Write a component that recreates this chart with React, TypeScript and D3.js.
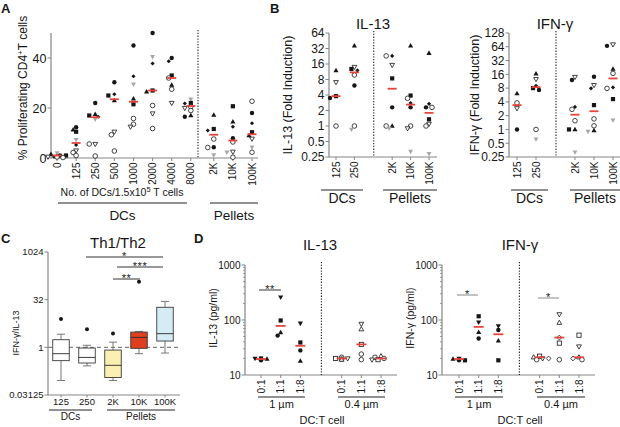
import React from "react";
import * as d3 from "d3";

const FONT = "'Liberation Sans', Arial, Helvetica, sans-serif";
const RED = "#e6443b";
const AXIS = "#858585";
const INK = "#161616";
const GREY = "#a8a8a8";

type Kind = "fc" | "fd" | "fs" | "ft" | "fv" | "gt" | "ot" | "ou" | "oc" | "os" | "od";
type V = number | null;

// ---------------- Panel A : % proliferating CD4+ T cells
const aCategories = ["0", "125", "250", "500", "1000", "2000", "4000", "8000", "2K", "10K", "100K"];
const aFilledCircle: V[] = [1, 12.3, 22, 30.3, 45, 50, 40, 16.5, 4.3, 7.9, 18];
const aFilledDiamond: V[] = [0.5, 5.2, 16.5, 25.5, 32.7, 37.8, 38.7, 21.8, 11, 12.5, 13.9];
const aFilledSquare: V[] = [1, 10.5, 17, 25, 21.5, 27, 33, 22, 11.6, 20.7, 10.3];
const aFilledTriangle: V[] = [1.5, 11.3, 17.5, 23, 23.7, 26.5, 29.2, 17, 17.2, 14.5, 9];
const aGreyTriangle: V[] = [2, 7.3, 15.5, null, 29.5, 40.5, null, 23.5, 1.2, 2.3, 4.3];
const aOpenTriangle: V[] = [0.5, 3, 5.6, 10.5, 12.5, 17.8, 22, 20, null, 2.5, 7.7];
const aOpenCircle1: V[] = [0.4, 2.2, 5.6, 9.3, 15.8, 21, 27.5, 19, 7.6, 6.4, 22.7];
const aOpenCircle2: V[] = [0.2, 1, 0.8, 2.8, 13.5, 11.8, 32, 20.5, 4.2, 0.3, 2.3];
const aMedian = [1, 6, 16.3, 23.5, 22.5, 27, 32, 20.8, 9.3, 7, 9.5];
const aTicks = [0, 20, 40];

// ---------------- Panel B : fold induction
const bCategories = ["125", "250", "2K", "10K", "100K"];
const bIl13FilledTriangle: V[] = [11.9, 36, 1.0, 36, 26];
const bIl13FilledSquare: V[] = [3.8, 12.8, 8.4, 3.9, 1.35];
const bIl13FilledCircle: V[] = [3.5, 6.1, 2.3, 2.3, 2.3];
const bIl13FilledDiamond: V[] = [null, 12, 23, 2.8, 2.7];
const bIl13OpenTriangle: V[] = [7.1, 14, 15.3, 0.9, 1.1];
const bIl13OpenCircle1: V[] = [1.0, 9.8, 23, 3.45, 2.3];
const bIl13OpenCircle2: V[] = [null, 1.0, 1.0, 1.0, 1.0];
const bIl13GreyTriangle: V[] = [null, 0.86, 0.9, 0.32, 0.29];
const bIl13Median = [3.8, 11, 5.3, 2.6, 1.8];
const bIl13Ticks = [0.25, 0.5, 1, 2, 4, 8, 16, 32, 64];

const bIfnFilledTriangle: V[] = [6.1, 16.5, 1.0, 0.95, 20.8];
const bIfnFilledCircle: V[] = [1.0, 7.3, 12, 14.2, 67];
const bIfnFilledDiamond: V[] = [null, 9, 3.1, 7.9, 8.3];
const bIfnFilledSquare: V[] = [null, 8, 1.0, 3.4, 4.6];
const bIfnOpenTriangle: V[] = [2.9, 12.6, 14, 9.3, 72];
const bIfnOpenCircle1: V[] = [3.8, 1.0, 2.75, 1.7, 16.8];
const bIfnOpenCircle2: V[] = [null, null, 1.55, 1.2, 7.9];
const bIfnGreyTriangle: V[] = [null, 0.61, 0.32, 0.9, 1.6];
const bIfnMedian = [3.4, 8.4, 2.1, 2.5, 13];
const bIfnTicks = [0.25, 0.5, 1, 2, 4, 8, 16, 32, 64, 128];

// ---------------- Panel C : Th1/Th2 ratio boxes
const cCategories = ["125", "250", "2K", "10K", "100K"];
const cWhiskerLow = [0.09, 0.26, 0.09, 0.63, 0.66];
const cQ1 = [0.38, 0.32, 0.112, 0.93, 1.58];
const cMedian = [0.63, 0.48, 0.27, 2.06, 2.7];
const cQ3 = [1.74, 0.95, 0.82, 3.03, 18.4];
const cWhiskerHigh = [2.6, 1.16, 1.46, 3.18, 28.2];
const cOutlier: V[] = [7.9, 3.7, 2.75, 118, null];
const cFills = ["#ffffff", "#ffffff", "#fbf0b2", "#df3f1f", "#d5ebf6"];
const cTicks = [0.03125, 1, 32, 1024];
const cTickLabels = ["0.03125", "1", "32", "1024"];

// ---------------- Panel D : cytokine (pg/ml)
const dCategories = ["0:1", "1:1", "1:8", "0:1", "1:1", "1:8"];
const dIl13FilledSquare: V[] = [20, 98, 39, null, null, null];
const dIl13FilledTriangle: V[] = [19.5, 59, 18, null, null, null];
const dIl13FilledCircle: V[] = [18.5, 52, 28, null, null, null];
const dIl13FilledDown: V[] = [20, 259, 87, null, null, null];
const dIl13OpenCircle1: V[] = [null, null, null, 21, 24, 20];
const dIl13OpenSquare: V[] = [null, null, null, 20, 36, 19];
const dIl13OpenUp: V[] = [null, null, null, 19, 68, 22];
const dIl13OpenDown: V[] = [null, null, null, 20, 85, 19];
const dIl13OpenCircle2: V[] = [null, null, null, 19.5, 19, 21];
const dIl13Median = [19.5, 78, 34, 20, 36, 20];

const dIfnFilledSquare: V[] = [18.5, 117, 18.5, null, null, null];
const dIfnFilledDown: V[] = [20, 91, 78, null, null, null];
const dIfnFilledTriangle: V[] = [19.5, 60, 42, null, null, null];
const dIfnFilledCircle: V[] = [18.5, 46, 66, null, null, null];
const dIfnOpenSquare: V[] = [null, null, null, 22, 38, 53];
const dIfnOpenDown: V[] = [null, null, null, 20, 127, 33];
const dIfnOpenUp: V[] = [null, null, null, 21, 89, 21];
const dIfnOpenCircle: V[] = [null, null, null, 19, 19, 19];
const dIfnOpenDiamond: V[] = [null, null, null, 20, 48, 20];
const dIfnMedian = [19.5, 75, 55, 21, 48, 21];
const dTicks = [10, 100, 1000];

// ---------------- helpers
function Marker({ kind, x, y }: { kind: Kind; x: number; y: number }) {
  const sw = 0.8;
  const up = (s: number) => `M${x},${y - s}L${x + s * 0.92},${y + s * 0.62}L${x - s * 0.92},${y + s * 0.62}Z`;
  const dn = (s: number) => `M${x},${y + s}L${x + s * 0.92},${y - s * 0.62}L${x - s * 0.92},${y - s * 0.62}Z`;
  const dm = (s: number) => `M${x},${y - s}L${x + s},${y}L${x},${y + s}L${x - s},${y}Z`;
  switch (kind) {
    case "fc": return <circle cx={x} cy={y} r={2.2} fill={INK} />;
    case "fd": return <path d={dm(2.1)} fill={INK} />;
    case "fs": return <rect x={x - 2.1} y={y - 2.1} width={4.2} height={4.2} fill={INK} />;
    case "ft": return <path d={up(2.8)} fill={INK} />;
    case "fv": return <path d={dn(2.8)} fill={INK} />;
    case "gt": return <path d={dn(2.7)} fill={GREY} />;
    case "ot": return <path d={dn(2.6)} fill="white" stroke={INK} strokeWidth={sw} />;
    case "ou": return <path d={up(2.6)} fill="white" stroke={INK} strokeWidth={sw} />;
    case "oc": return <circle cx={x} cy={y} r={2.3} fill="white" stroke={INK} strokeWidth={sw} />;
    case "os": return <rect x={x - 2.1} y={y - 2.1} width={4.2} height={4.2} fill="white" stroke={INK} strokeWidth={sw} />;
    case "od": return <path d={dm(2.4)} fill="white" stroke={INK} strokeWidth={sw} />;
  }
  return null;
}

type Series = [Kind, V[]][];

function dodge(pts: { kind: Kind; y: number }[], xc: number) {
  const sorted = [...pts].sort((a, b) => a.y - b.y);
  const placed: { kind: Kind; x: number; y: number }[] = [];
  const offs = [0, -3, 3, -6, 6, -9, 9];
  for (const p of sorted) {
    let done = false;
    for (const o of offs) {
      const x = xc + o;
      if (placed.every((q) => Math.hypot(q.x - x, q.y - p.y) >= 3.6)) {
        placed.push({ kind: p.kind, x, y: p.y });
        done = true;
        break;
      }
    }
    if (!done) placed.push({ kind: p.kind, x: xc, y: p.y });
  }
  return placed;
}

function DotColumns({ series, medians, xOf, y, mw }: { series: Series; medians: number[]; xOf: (i: number) => number; y: (v: number) => number; mw: number }) {
  return (
    <g>
      {medians.map((m, i) => {
        const xc = xOf(i);
        const pts: { kind: Kind; y: number }[] = [];
        series.forEach(([k, vals]) => {
          const v = vals[i];
          if (v != null) pts.push({ kind: k, y: y(v) });
        });
        const placed = dodge(pts, xc);
        return (
          <g key={i}>
            {placed.map((p, j) => <Marker key={j} kind={p.kind} x={p.x} y={p.y} />)}
            <line x1={xc - mw / 2} x2={xc + mw / 2} y1={y(m)} y2={y(m)} stroke={RED} strokeWidth={1.8} />
          </g>
        );
      })}
    </g>
  );
}

function YAxis({ x, top, bottom, ticks, fs, minor = [] }: { x: number; top: number; bottom: number; ticks: { y: number; label: string }[]; fs: number; minor?: number[] }) {
  return (
    <g>
      <line x1={x} x2={x} y1={top} y2={bottom} stroke={AXIS} strokeWidth={1.2} />
      {minor.map((m, i) => <line key={"m" + i} x1={x - 2} x2={x} y1={m} y2={m} stroke={AXIS} strokeWidth={0.8} />)}
      {ticks.map((t, i) => (
        <g key={i}>
          <line x1={x - 3.5} x2={x} y1={t.y} y2={t.y} stroke={AXIS} strokeWidth={1} />
          <text x={x - 4.5} y={t.y + fs * 0.36} fontSize={fs} textAnchor="end" fill={INK}>{t.label}</text>
        </g>
      ))}
    </g>
  );
}

function XAxisRot({ y, x0, x1, cats, xOf, fs }: { y: number; x0: number; x1: number; cats: string[]; xOf: (i: number) => number; fs: number }) {
  return (
    <g>
      <line x1={x0} x2={x1} y1={y} y2={y} stroke={AXIS} strokeWidth={1.2} />
      {cats.map((c, i) => (
        <g key={i}>
          <line x1={xOf(i)} x2={xOf(i)} y1={y} y2={y + 3} stroke={AXIS} strokeWidth={1} />
          <text transform={`translate(${xOf(i) + fs * 0.36},${y + 4.5}) rotate(-90)`} fontSize={fs} textAnchor="end" fill={INK}>{c}</text>
        </g>
      ))}
    </g>
  );
}

function Dotted({ x, y0, y1 }: { x: number; y0: number; y1: number }) {
  return <line x1={x} x2={x} y1={y0} y2={y1} stroke="#222" strokeWidth={1.1} strokeDasharray="1.3,1.5" />;
}

function Bracket({ x0, x1, y, fs, label, color = "#333" }: { x0: number; x1: number; y: number; fs: number; label: string; color?: string }) {
  return (
    <g>
      <line x1={x0} x2={x1} y1={y} y2={y} stroke={color} strokeWidth={1} />
      <text x={(x0 + x1) / 2} y={y + 3} fontSize={fs} textAnchor="middle" fill={INK} letterSpacing={0.5}>{label}</text>
    </g>
  );
}

function Underline({ x0, x1, y, label, ly, fs }: { x0: number; x1: number; y: number; label: React.ReactNode; ly: number; fs: number }) {
  return (
    <g>
      <line x1={x0} x2={x1} y1={y} y2={y} stroke="#222" strokeWidth={1} />
      <text x={(x0 + x1) / 2} y={ly} fontSize={fs} textAnchor="middle" fill={INK}>{label}</text>
    </g>
  );
}

export default function App() {
  // ---- A scales
  const aSlot = (i: number) => (i < 8 ? i : 8.2 + (i - 8));
  const aX = d3.scaleLinear().domain([0, 10.2]).range([57, 252]);
  const aY = d3.scaleLinear().domain([0, 50]).range([158, 33]);
  const aXOf = (i: number) => aX(aSlot(i));
  const aSeries: Series = [
    ["fc", aFilledCircle], ["fd", aFilledDiamond], ["fs", aFilledSquare], ["ft", aFilledTriangle],
    ["gt", aGreyTriangle], ["ot", aOpenTriangle], ["oc", aOpenCircle1], ["oc", aOpenCircle2],
  ];

  // ---- B scales
  const bSlot = (i: number) => (i < 2 ? i : 3.05 + (i - 2));
  const bIl13X = d3.scaleLinear().domain([0, 5.05]).range([336, 429]);
  const bIfnX = d3.scaleLinear().domain([0, 5.05]).range([517, 613]);
  const bIl13Y = d3.scaleLog().base(2).domain([0.25, 64]).range([157, 33]);
  const bIfnY = d3.scaleLog().base(2).domain([0.25, 128]).range([157, 33]);
  const bIl13Series: Series = [
    ["ft", bIl13FilledTriangle], ["fs", bIl13FilledSquare], ["fc", bIl13FilledCircle], ["fd", bIl13FilledDiamond],
    ["ot", bIl13OpenTriangle], ["oc", bIl13OpenCircle1], ["oc", bIl13OpenCircle2], ["gt", bIl13GreyTriangle],
  ];
  const bIfnSeries: Series = [
    ["ft", bIfnFilledTriangle], ["fc", bIfnFilledCircle], ["fd", bIfnFilledDiamond], ["fs", bIfnFilledSquare],
    ["ot", bIfnOpenTriangle], ["oc", bIfnOpenCircle1], ["oc", bIfnOpenCircle2], ["gt", bIfnGreyTriangle],
  ];

  // ---- C scales
  const cX = d3.scalePoint<string>().domain(cCategories).range([61, 165]);
  const cY = d3.scaleLog().base(2).domain([0.03125, 1024]).range([395, 252]);
  const bw = 16.5;

  // ---- D scales
  const dSlot = (i: number) => (i < 3 ? i : 4.1 + (i - 3));
  const dIl13X = d3.scaleLinear().domain([0, 6.1]).range([261, 381]);
  const dIfnX = d3.scaleLinear().domain([0, 6.1]).range([459, 579]);
  const dY = d3.scaleLog().domain([10, 1000]).range([375, 265]);
  const dMinor: number[] = [];
  [10, 100].forEach((d) => { for (let k = 2; k <= 9; k++) dMinor.push(dY(d * k)); });
  const dIl13Series: Series = [
    ["fs", dIl13FilledSquare], ["ft", dIl13FilledTriangle], ["fc", dIl13FilledCircle], ["fv", dIl13FilledDown],
    ["oc", dIl13OpenCircle1], ["os", dIl13OpenSquare], ["ou", dIl13OpenUp], ["ot", dIl13OpenDown], ["oc", dIl13OpenCircle2],
  ];
  const dIfnSeries: Series = [
    ["fs", dIfnFilledSquare], ["fv", dIfnFilledDown], ["ft", dIfnFilledTriangle], ["fc", dIfnFilledCircle],
    ["os", dIfnOpenSquare], ["ot", dIfnOpenDown], ["ou", dIfnOpenUp], ["oc", dIfnOpenCircle], ["od", dIfnOpenDiamond],
  ];

  return (
    <svg width={620} height={427} style={{ position: "absolute", left: 0, top: 0, display: "block" }} fontFamily={FONT}>
      <rect width={620} height={427} fill="white" />

      {/* ================= A ================= */}
      <text x={1} y={13} fontSize={13} fontWeight="bold" fill={INK}>A</text>
      <text transform="translate(27,88) rotate(-90)" fontSize={12} textAnchor="middle" fill={INK}>
        % Proliferating CD4<tspan dy={-4} fontSize={8}>+</tspan><tspan dy={4}>T cells</tspan>
      </text>
      <YAxis x={51} top={33} bottom={158} fs={12.5} ticks={aTicks.map((t) => ({ y: aY(t), label: String(t) }))} />
      <XAxisRot y={158} x0={51} x1={258} cats={aCategories} xOf={aXOf} fs={10} />
      <Dotted x={198} y0={30} y1={158} />
      <DotColumns series={aSeries} medians={aMedian} xOf={aXOf} y={aY} mw={9} />
      <text x={122} y={196} fontSize={10.5} textAnchor="middle" fill={INK}>
        No. of DCs/1.5x10<tspan dy={-4} fontSize={7.5}>5</tspan><tspan dy={4}> T cells</tspan>
      </text>
      <Underline x0={58} x1={187} y={203} label="DCs" ly={220} fs={13.5} />
      <Underline x0={210} x1={258} y={203} label="Pellets" ly={220} fs={13.5} />

      {/* ================= B ================= */}
      <text x={270} y={13} fontSize={13} fontWeight="bold" fill={INK}>B</text>
      <text x={373} y={29} fontSize={15} textAnchor="middle" fill={INK}>IL-13</text>
      <text x={555} y={29} fontSize={15} textAnchor="middle" fill={INK}>IFN-γ</text>
      <text transform="translate(292,95) rotate(-90)" fontSize={12.5} textAnchor="middle" fill={INK}>IL-13 (Fold Induction)</text>
      <text transform="translate(479,95) rotate(-90)" fontSize={12.5} textAnchor="middle" fill={INK}>IFN-γ (Fold Induction)</text>
      <YAxis x={329} top={33} bottom={157} fs={12} ticks={bIl13Ticks.map((t) => ({ y: bIl13Y(t), label: String(t) }))} />
      <YAxis x={509} top={33} bottom={157} fs={12} ticks={bIfnTicks.map((t) => ({ y: bIfnY(t), label: String(t) }))} />
      <XAxisRot y={157} x0={329} x1={437} cats={bCategories} xOf={(i) => bIl13X(bSlot(i))} fs={10} />
      <XAxisRot y={157} x0={509} x1={620} cats={bCategories} xOf={(i) => bIfnX(bSlot(i))} fs={10} />
      <Dotted x={bIl13X(2.05)} y0={31} y1={157} />
      <Dotted x={bIfnX(2.05)} y0={31} y1={157} />
      <DotColumns series={bIl13Series} medians={bIl13Median} xOf={(i) => bIl13X(bSlot(i))} y={bIl13Y} mw={9} />
      <DotColumns series={bIfnSeries} medians={bIfnMedian} xOf={(i) => bIfnX(bSlot(i))} y={bIfnY} mw={9} />
      <Underline x0={321} x1={363} y={190} label="DCs" ly={203} fs={14} />
      <Underline x0={383} x1={437} y={190} label="Pellets" ly={203} fs={14} />
      <Underline x0={511} x1={548} y={190} label="DCs" ly={203} fs={14} />
      <Underline x0={570} x1={620} y={190} label="Pellets" ly={203} fs={14} />

      {/* ================= C ================= */}
      <text x={1} y={243} fontSize={13} fontWeight="bold" fill={INK}>C</text>
      <text x={118} y={248} fontSize={15} textAnchor="middle" fill={INK}>Th1/Th2</text>
      <text transform="translate(19,333) rotate(-90)" fontSize={9} textAnchor="middle" fill={INK}>IFN-γ/IL-13</text>
      <line x1={48} x2={180} y1={cY(1)} y2={cY(1)} stroke="#555" strokeWidth={0.9} strokeDasharray="4,3" />
      {cCategories.map((c, i) => {
        const xc = cX(c) as number;
        const o = cOutlier[i];
        return (
          <g key={i}>
            <line x1={xc} x2={xc} y1={cY(cWhiskerLow[i])} y2={cY(cQ1[i])} stroke="#777" strokeWidth={1} />
            <line x1={xc} x2={xc} y1={cY(cQ3[i])} y2={cY(cWhiskerHigh[i])} stroke="#777" strokeWidth={1} />
            <line x1={xc - 4} x2={xc + 4} y1={cY(cWhiskerLow[i])} y2={cY(cWhiskerLow[i])} stroke="#777" strokeWidth={1} />
            <line x1={xc - 4} x2={xc + 4} y1={cY(cWhiskerHigh[i])} y2={cY(cWhiskerHigh[i])} stroke="#777" strokeWidth={1} />
            <rect x={xc - bw / 2} y={cY(cQ3[i])} width={bw} height={cY(cQ1[i]) - cY(cQ3[i])} fill={cFills[i]} stroke="#3a3a3a" strokeWidth={0.9} />
            <line x1={xc - bw / 2} x2={xc + bw / 2} y1={cY(cMedian[i])} y2={cY(cMedian[i])} stroke="#2a2a2a" strokeWidth={0.9} />
            {o != null && <circle cx={xc} cy={cY(o)} r={2} fill={INK} />}
          </g>
        );
      })}
      <YAxis x={48} top={252} bottom={395} fs={9.5} ticks={cTicks.map((t, i) => ({ y: cY(t), label: cTickLabels[i] }))} />
      <line x1={48} x2={180} y1={395} y2={395} stroke={AXIS} strokeWidth={1.2} />
      {cCategories.map((c, i) => (
        <g key={i}>
          <line x1={cX(c)} x2={cX(c)} y1={395} y2={397.5} stroke={AXIS} strokeWidth={1} />
          <text x={cX(c)} y={405} fontSize={9.5} textAnchor="middle" fill={INK}>{c}</text>
        </g>
      ))}
      <Underline x0={49} x1={92} y={410} label="DCs" ly={420} fs={10} />
      <Underline x0={107} x1={175} y={410} label="Pellets" ly={420} fs={10} />
      <Bracket x0={86} x1={163} y={257} fs={11} label="*" />
      <Bracket x0={117} x1={163} y={267} fs={11} label="***" />
      <Bracket x0={113} x1={140} y={279} fs={11} label="**" />

      {/* ================= D ================= */}
      <text x={194} y={243} fontSize={13} fontWeight="bold" fill={INK}>D</text>
      <text x={320} y={250} fontSize={15} textAnchor="middle" fill={INK}>IL-13</text>
      <text x={520} y={250} fontSize={15} textAnchor="middle" fill={INK}>IFN-γ</text>
      <text transform="translate(217,318) rotate(-90)" fontSize={10.5} textAnchor="middle" fill={INK}>IL-13 (pg/ml)</text>
      <text transform="translate(414,318) rotate(-90)" fontSize={10.5} textAnchor="middle" fill={INK}>IFN-γ (pg/ml)</text>
      <YAxis x={245} top={265} bottom={375} fs={10} minor={dMinor} ticks={dTicks.map((t) => ({ y: dY(t), label: String(t) }))} />
      <YAxis x={442} top={265} bottom={375} fs={10} minor={dMinor} ticks={dTicks.map((t) => ({ y: dY(t), label: String(t) }))} />
      <XAxisRot y={375} x0={245} x1={397} cats={dCategories} xOf={(i) => dIl13X(dSlot(i))} fs={10} />
      <XAxisRot y={375} x0={442} x1={595} cats={dCategories} xOf={(i) => dIfnX(dSlot(i))} fs={10} />
      <Dotted x={dIl13X(3.07)} y0={262} y1={375} />
      <Dotted x={dIfnX(3.07)} y0={262} y1={375} />
      <DotColumns series={dIl13Series} medians={dIl13Median} xOf={(i) => dIl13X(dSlot(i))} y={dY} mw={10} />
      <DotColumns series={dIfnSeries} medians={dIfnMedian} xOf={(i) => dIfnX(dSlot(i))} y={dY} mw={10} />
      <Bracket x0={259} x1={281} y={290} fs={11} label="**" />
      <Bracket x0={457} x1={478} y={295} fs={11} label="*" color="#888" />
      <Bracket x0={538} x1={559} y={298} fs={11} label="*" color="#888" />
      <Underline x0={258} x1={305} y={397} label="1 µm" ly={408} fs={11} />
      <Underline x0={338} x1={385} y={397} label="0.4 µm" ly={408} fs={11} />
      <Underline x0={455} x1={503} y={397} label="1 µm" ly={408} fs={11} />
      <Underline x0={537} x1={585} y={397} label="0.4 µm" ly={408} fs={11} />
      <text x={322} y={424} fontSize={11} textAnchor="middle" fill={INK}>DC:T cell</text>
      <text x={520} y={424} fontSize={11} textAnchor="middle" fill={INK}>DC:T cell</text>
    </svg>
  );
}
